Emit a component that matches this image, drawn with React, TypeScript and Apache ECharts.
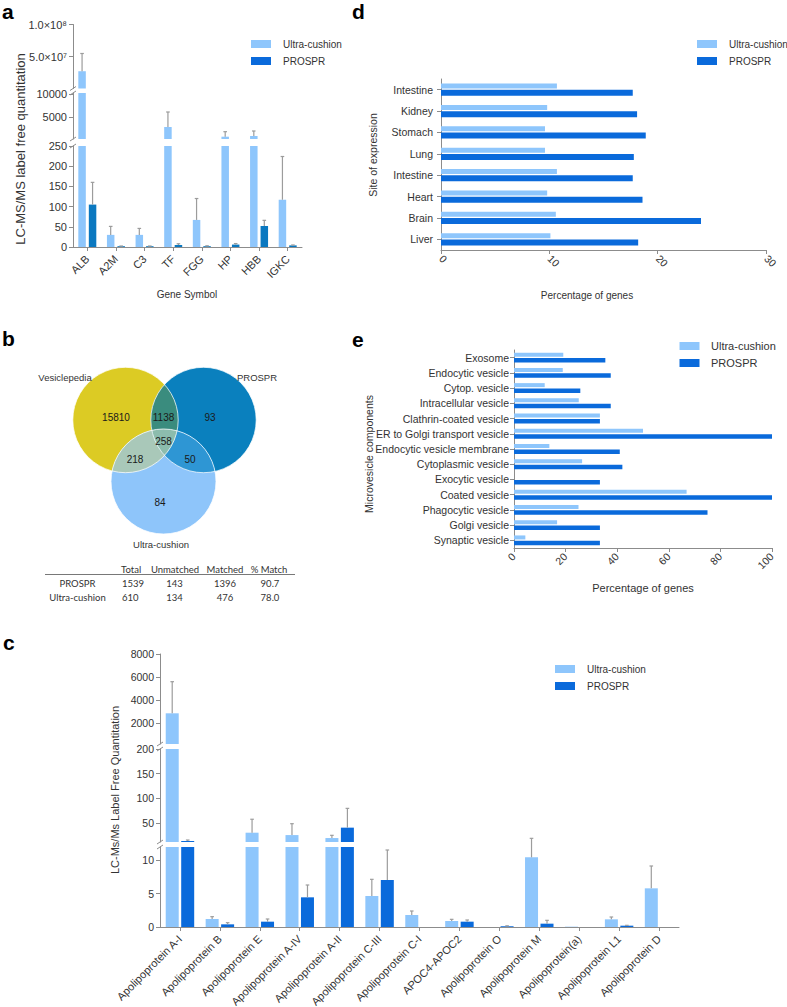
import React, { useEffect, useRef } from "react";
import * as echarts from "echarts";

// ---------- Panel a: gene symbols ----------
const geneSymbols = ["ALB", "A2M", "C3", "TF", "FGG", "HP", "HBB", "IGKC"];
const geneUltra = [2.7e7, 30, 30, 2850, 67, 750, 900, 117];
const geneUltraErr = [5.47e7, 51, 46, 6090, 120, 1830, 1980, 224];
const geneProspr = [105, 2, 2, 5, 2, 6, 52, 4];
const geneProsprErr = [160, 2.5, 2.5, 8, 3, 8.5, 66, 5];

// ---------- Panel d: site of expression (bottom to top) ----------
const sites = ["Liver", "Brain", "Heart", "Intestine", "Lung", "Stomach", "Kidney", "Intestine"];
const siteUltra = [10.1, 10.6, 9.8, 10.7, 9.6, 9.6, 9.8, 10.7];
const siteProspr = [18.2, 24.0, 18.6, 17.7, 17.8, 18.9, 18.1, 17.7];

// ---------- Panel e: microvesicle components (bottom to top) ----------
const components = [
  "Synaptic vesicle", "Golgi vesicle", "Phagocytic vesicle", "Coated vesicle",
  "Exocytic vesicle", "Cytoplasmic vesicle", "Endocytic vesicle membrane",
  "ER to Golgi transport vesicle", "Clathrin-coated vesicle", "Intracellular vesicle",
  "Cytop. vesicle", "Endocytic vesicle", "Exosome",
];
const compUltra = [4.4, 16.7, 25, 66.9, 0, 26.4, 13.7, 50, 33.3, 25.1, 11.9, 18.9, 19.1];
const compProspr = [33.3, 33.3, 75, 100, 33.3, 42, 41, 100, 33.3, 37.5, 25.7, 37.5, 35.4];

// ---------- Panel c: apolipoproteins ----------
const apos = [
  "Apolipoprotein A-I", "Apolipoprotein B", "Apolipoprotein E", "Apolipoprotein A-IV",
  "Apolipoprotein A-II", "Apolipoprotein C-III", "Apolipoprotein C-I", "APOC4-APOC2",
  "Apolipoprotein O", "Apolipoprotein M", "Apolipoprotein(a)", "Apolipoprotein L1", "Apolipoprotein D",
];
const apoUltra = [2860, 1.2, 30.8, 26, 20, 4.65, 1.8, 0.9, 0, 10.45, 0.05, 1.15, 5.8];
const apoUltraErr = [5600, 1.55, 58, 49, 25.5, 7.15, 2.4, 1.15, 0, 13.3, 0.05, 1.5, 9.15];
const apoProspr = [14, 0.4, 0.8, 4.45, 41, 7.05, 0, 0.8, 0.12, 0.5, 0, 0.2, 0];
const apoProsprErr = [16, 0.65, 1.2, 6.3, 80, 11.55, 0, 1.05, 0.18, 1.0, 0, 0.25, 0];

// ---------- Panel b: Venn + table ----------
const vennSets = ["Vesiclepedia", "PROSPR", "Ultra-cushion"];
const vennRegions = ["V", "VP", "P", "VPU", "VU", "PU", "U"];
const vennCounts = [15810, 1138, 93, 258, 218, 50, 84];
const tableHeader = ["Total", "Unmatched", "Matched", "% Match"];
const tableRows = ["PROSPR", "Ultra-cushion"];
const tableTotal = [1539, 610];
const tableUnmatched = [143, 134];
const tableMatched = [1396, 476];
const tablePct = ["90.7", "78.0"];

const seriesNames = ["Ultra-cushion", "PROSPR"];

const ULTRA = "#8EC6FC";
const PROSPR_A = "#0A78C0";
const PROSPR = "#0A6ADB";
const AX = "#8c8c8c";
const TXT = "#333333";
const ERR = "#9c9c9c";
const FONT = "'Liberation Sans', Arial, sans-serif";

function intersectionPolygon(circles: { cx: number; cy: number; r: number }[]) {
  const pts: number[][] = [];
  circles.forEach((c, k) => {
    for (let t = 0; t < 720; t++) {
      const a = (t / 720) * Math.PI * 2;
      const x = c.cx + c.r * Math.cos(a);
      const y = c.cy + c.r * Math.sin(a);
      const inside = circles.every(
        (o, j) => j === k || (x - o.cx) ** 2 + (y - o.cy) ** 2 <= o.r * o.r + 1e-6
      );
      if (inside) pts.push([x, y]);
    }
  });
  const mx = pts.reduce((s, p) => s + p[0], 0) / pts.length;
  const my = pts.reduce((s, p) => s + p[1], 0) / pts.length;
  pts.sort((p, q) => Math.atan2(p[1] - my, p[0] - mx) - Math.atan2(q[1] - my, q[0] - mx));
  return pts;
}

function text(x: number, y: number, t: string, opt: any = {}) {
  return {
    type: "text",
    x,
    y,
    rotation: opt.rotation || 0,
    silent: true,
    style: {
      text: t,
      fill: opt.fill || TXT,
      fontSize: opt.fontSize || 10,
      fontFamily: opt.fontFamily || FONT,
      fontWeight: opt.fontWeight || "normal",
      textAlign: opt.align || "center",
      textVerticalAlign: "middle",
    },
  };
}

const plain = (v: number) => String(v);

function buildOption() {
  const grids = [
    { left: 73, top: 24.5, width: 229, height: 64 },
    { left: 73, top: 93, width: 229, height: 46 },
    { left: 73, top: 146, width: 229, height: 101 },
    { left: 441, top: 79, width: 325, height: 171 },
    { left: 514, top: 350, width: 258, height: 198 },
    { left: 160, top: 654, width: 519, height: 90 },
    { left: 160, top: 749, width: 519, height: 93 },
    { left: 160, top: 847, width: 519, height: 80 },
  ].map((g) => ({ ...g, containLabel: false, outerBoundsMode: "none" }));

  const axisLine = { show: true, onZero: false, lineStyle: { color: AX, width: 1 } };
  const tick = (extra: any = {}) => ({ show: true, length: 4, lineStyle: { color: AX }, ...extra });
  const lbl = (extra: any = {}) => ({ color: TXT, fontFamily: FONT, fontSize: 11, ...extra });

  const catX = (gridIndex: number, data: string[], show: boolean, fs: number) => ({
    type: "category",
    gridIndex,
    data,
    show,
    axisLine,
    axisTick: tick({ alignWithLabel: true, interval: 0 }),
    axisLabel: lbl({ rotate: 45, interval: 0, fontSize: fs, margin: 10 }),
    splitLine: { show: false },
  });
  const valY = (gridIndex: number, min: number, max: number, ticks: number[], fmt: any = plain, fs = 11) => ({
    type: "value",
    gridIndex,
    min,
    max,
    axisLine,
    axisTick: tick({ customValues: ticks }),
    axisLabel: lbl({ customValues: ticks, fontSize: fs, margin: 6, formatter: fmt }),
    splitLine: { show: false },
  });

  const xAxis: any[] = [
    catX(0, geneSymbols, false, 11),
    catX(1, geneSymbols, false, 11),
    catX(2, geneSymbols, true, 11),
    {
      type: "value", gridIndex: 3, min: 0, max: 30, interval: 10,
      axisLine, axisTick: tick(),
      axisLabel: lbl({ rotate: -45, fontSize: 10.5, margin: 7, formatter: plain }),
      splitLine: { show: false },
    },
    {
      type: "value", gridIndex: 4, min: 0, max: 100, interval: 20,
      axisLine, axisTick: tick(),
      axisLabel: lbl({ rotate: 45, fontSize: 10.5, margin: 7, formatter: plain }),
      splitLine: { show: false },
    },
    catX(5, apos, false, 11),
    catX(6, apos, false, 11),
    catX(7, apos, true, 11),
  ];

  const catY = (gridIndex: number, data: string[], fs: number, margin: number) => ({
    type: "category",
    gridIndex,
    data,
    axisLine,
    axisTick: tick({ alignWithLabel: true, interval: 0 }),
    axisLabel: lbl({ interval: 0, fontSize: fs, margin }),
    splitLine: { show: false },
  });

  const yAxis: any[] = [
    valY(0, 0, 1e8, [5e7, 1e8], (v: number) => (v >= 1e8 ? "1.0×10⁸" : "5.0×10⁷")),
    valY(1, 250, 10200, [5000, 10000]),
    valY(2, 0, 250, [0, 50, 100, 150, 200, 250]),
    catY(3, sites, 10.5, 8),
    catY(4, components, 10.5, 5),
    valY(5, 200, 8000, [2000, 4000, 6000, 8000], plain, 10.5),
    valY(6, 12, 200, [50, 100, 150, 200], plain, 10.5),
    valY(7, 0, 12, [0, 5, 10], plain, 10.5),
  ];

  const bar = (ax: number, data: number[], color: string, w: number, gap: string, name: string) => ({
    type: "bar",
    name,
    xAxisIndex: ax,
    yAxisIndex: ax,
    data,
    barWidth: w,
    barGap: gap,
    clip: true,
    itemStyle: { color },
  });

  const err = (ax: number, vals: number[], errs: number[], dx: number, lo: number, hi: number) => ({
    type: "custom",
    xAxisIndex: ax,
    yAxisIndex: ax,
    clip: false,
    z: 3,
    data: vals.map((v, i) => [i, v, errs[i]]),
    renderItem: (_p: any, api: any) => {
      const i = api.value(0);
      const v = api.value(1);
      const e = api.value(2);
      if (!(v >= lo && v < hi) || !(e > v)) return null;
      const p0 = api.coord([i, v]);
      const p1 = api.coord([i, e]);
      const x = p0[0] + dx;
      return {
        type: "group",
        children: [
          { type: "line", shape: { x1: x, y1: p0[1], x2: x, y2: p1[1] }, style: { stroke: ERR, lineWidth: 1.2 } },
          { type: "line", shape: { x1: x - 1.8, y1: p1[1], x2: x + 1.8, y2: p1[1] }, style: { stroke: ERR, lineWidth: 1.2 } },
        ],
      };
    },
  });

  const series: any[] = [];
  const aSegs = [[10200, Infinity], [250, 10200], [0, 250]];
  aSegs.forEach(([lo, hi], s) => {
    series.push(bar(s, geneUltra, ULTRA, 7.5, "40%", seriesNames[0]));
    series.push(bar(s, geneProspr, PROSPR_A, 7.5, "40%", seriesNames[1]));
    series.push(err(s, geneUltra, geneUltraErr, -5.25, lo, hi));
    series.push(err(s, geneProspr, geneProsprErr, 5.25, lo, hi));
  });
  series.push(bar(3, siteUltra, ULTRA, 5, "25%", seriesNames[0]));
  series.push(bar(3, siteProspr, PROSPR, 6, "25%", seriesNames[1]));
  series.push(bar(4, compUltra, ULTRA, 4, "35%", seriesNames[0]));
  series.push(bar(4, compProspr, PROSPR, 4.5, "35%", seriesNames[1]));
  const cSegs = [[200, Infinity], [12, 200], [0, 12]];
  cSegs.forEach(([lo, hi], s) => {
    const ax = 5 + s;
    series.push(bar(ax, apoUltra, ULTRA, 13, "19%", seriesNames[0]));
    series.push(bar(ax, apoProspr, PROSPR, 13, "19%", seriesNames[1]));
    series.push(err(ax, apoUltra, apoUltraErr, -7.75, lo, hi));
    series.push(err(ax, apoProspr, apoProsprErr, 7.75, lo, hi));
  });

  // ---------- graphics ----------
  const g: any[] = [];
  const letter = (x: number, y: number, t: string) =>
    text(x, y, t, { fontSize: 21, fontWeight: "bold", align: "left", fill: "#000", fontFamily: "Arial, 'Liberation Sans', sans-serif" });
  g.push(letter(2, 11, "a"), letter(352, 11, "d"), letter(2, 338.5, "b"), letter(352, 339, "e"), letter(3, 642.5, "c"));

  // axis titles
  g.push(text(20.5, 149, "LC-MS/MS label free quantitation", { fontSize: 13, rotation: Math.PI / 2 }));
  g.push(text(187, 294.5, "Gene Symbol", { fontSize: 10 }));
  g.push(text(372.5, 155, "Site of expression", { fontSize: 10.5, rotation: Math.PI / 2 }));
  g.push(text(587, 295.5, "Percentage of genes", { fontSize: 10 }));
  g.push(text(369, 454, "Microvesicle components", { fontSize: 10.5, rotation: Math.PI / 2 }));
  g.push(text(643, 588, "Percentage of genes", { fontSize: 11 }));
  g.push(text(115, 790, "LC-Ms/Ms Label Free Quantitation", { fontSize: 11, rotation: Math.PI / 2 }));

  // legends
  const legend = (rx: number, ry: number, tx: number, fs: number, c2: string, gapY: number) => {
    g.push({ type: "rect", shape: { x: rx, y: ry, width: 20, height: 8 }, style: { fill: ULTRA }, silent: true });
    g.push({ type: "rect", shape: { x: rx, y: ry + gapY, width: 20, height: 8 }, style: { fill: c2 }, silent: true });
    g.push(text(tx, ry + 4, seriesNames[0], { fontSize: fs, align: "left" }));
    g.push(text(tx, ry + 4 + gapY, seriesNames[1], { fontSize: fs, align: "left" }));
  };
  legend(251, 40, 283, 10, PROSPR, 17);
  legend(697, 40, 729, 10, PROSPR, 17);
  legend(679.5, 342, 711, 11, PROSPR, 17);
  legend(555, 665, 587, 10, PROSPR, 17);

  // axis breaks
  const brk = (x: number, y: number) =>
    g.push({ type: "line", shape: { x1: x - 3, y1: y + 2, x2: x + 3, y2: y - 2 }, style: { stroke: AX, lineWidth: 1 }, silent: true });
  [88.5, 93, 139, 146].forEach((y) => brk(73, y));
  [744, 749, 842, 847].forEach((y) => brk(160, y));

  // Venn diagram
  const V = { cx: 125.5, cy: 420, r: 52.7 };
  const P = { cx: 203.5, cy: 420, r: 52.7 };
  const U = { cx: 163.5, cy: 481.5, r: 52.5 };
  g.push({ type: "circle", shape: V, style: { fill: "#DCCB24" }, silent: true });
  g.push({ type: "circle", shape: P, style: { fill: "#0A80BE" }, silent: true });
  g.push({ type: "circle", shape: U, style: { fill: "#8EC5FA" }, silent: true });
  g.push({ type: "polygon", shape: { points: intersectionPolygon([V, P]) }, style: { fill: "#3A8C7E" }, silent: true });
  g.push({ type: "polygon", shape: { points: intersectionPolygon([V, U]) }, style: { fill: "#A9C8B9" }, silent: true });
  g.push({ type: "polygon", shape: { points: intersectionPolygon([P, U]) }, style: { fill: "#2E96D4" }, silent: true });
  g.push({ type: "polygon", shape: { points: intersectionPolygon([V, P, U]) }, style: { fill: "#8CBCAD" }, silent: true });
  [V, P, U].forEach((c) =>
    g.push({ type: "circle", shape: c, style: { fill: "none", stroke: "rgba(255,255,255,0.75)", lineWidth: 1 }, silent: true })
  );
  const regionPos: Record<string, number[]> = {
    V: [116, 417.5], VP: [163.5, 417.5], P: [210, 417.5], VPU: [163.5, 441],
    VU: [135, 459.5], PU: [190, 459.5], U: [160, 502.5],
  };
  vennRegions.forEach((r, i) => {
    const p = regionPos[r];
    g.push(text(p[0], p[1], String(vennCounts[i]), { fontSize: 10, fill: "#1a1a1a" }));
  });
  g.push(text(65, 377, vennSets[0], { fontSize: 9.5 }));
  g.push(text(257, 377, vennSets[1], { fontSize: 9.5 }));
  g.push(text(161, 544, vennSets[2], { fontSize: 9.5 }));

  // table
  const TF = "Lato, 'Open Sans', sans-serif";
  const colX = [121, 175, 225, 269];
  g.push(text(colX[0], 569, tableHeader[0], { fontSize: 9.5, fontFamily: TF, align: "left" }));
  g.push(text(colX[1], 569, tableHeader[1], { fontSize: 9.5, fontFamily: TF }));
  g.push(text(colX[2], 569, tableHeader[2], { fontSize: 9.5, fontFamily: TF }));
  g.push(text(colX[3], 569, tableHeader[3], { fontSize: 9.5, fontFamily: TF }));
  g.push({ type: "line", shape: { x1: 45, y1: 574.5, x2: 295, y2: 574.5 }, style: { stroke: "#555", lineWidth: 0.8 }, silent: true });
  tableRows.forEach((r, i) => {
    const y = 583 + i * 14;
    g.push(text(77.5, y, r, { fontSize: 9.5, fontFamily: TF }));
    g.push(text(colX[0] + 1, y, String(tableTotal[i]), { fontSize: 9.5, fontFamily: TF, align: "left" }));
    g.push(text(174.5, y, String(tableUnmatched[i]), { fontSize: 9.5, fontFamily: TF }));
    g.push(text(225, y, String(tableMatched[i]), { fontSize: 9.5, fontFamily: TF }));
    g.push(text(270, y, tablePct[i], { fontSize: 9.5, fontFamily: TF }));
  });

  return {
    animation: false,
    backgroundColor: "#ffffff",
    textStyle: { fontFamily: FONT },
    grid: grids,
    xAxis,
    yAxis,
    series,
    graphic: g,
  };
}

export default function App() {
  const ref = useRef<HTMLDivElement>(null);
  useEffect(() => {
    document.body.style.margin = "0";
    const chart = echarts.init(ref.current as HTMLDivElement, null, { renderer: "svg" });
    chart.setOption(buildOption() as any);
    return () => chart.dispose();
  }, []);
  return <div ref={ref} style={{ width: 787, height: 1007, background: "#fff" }} />;
}
